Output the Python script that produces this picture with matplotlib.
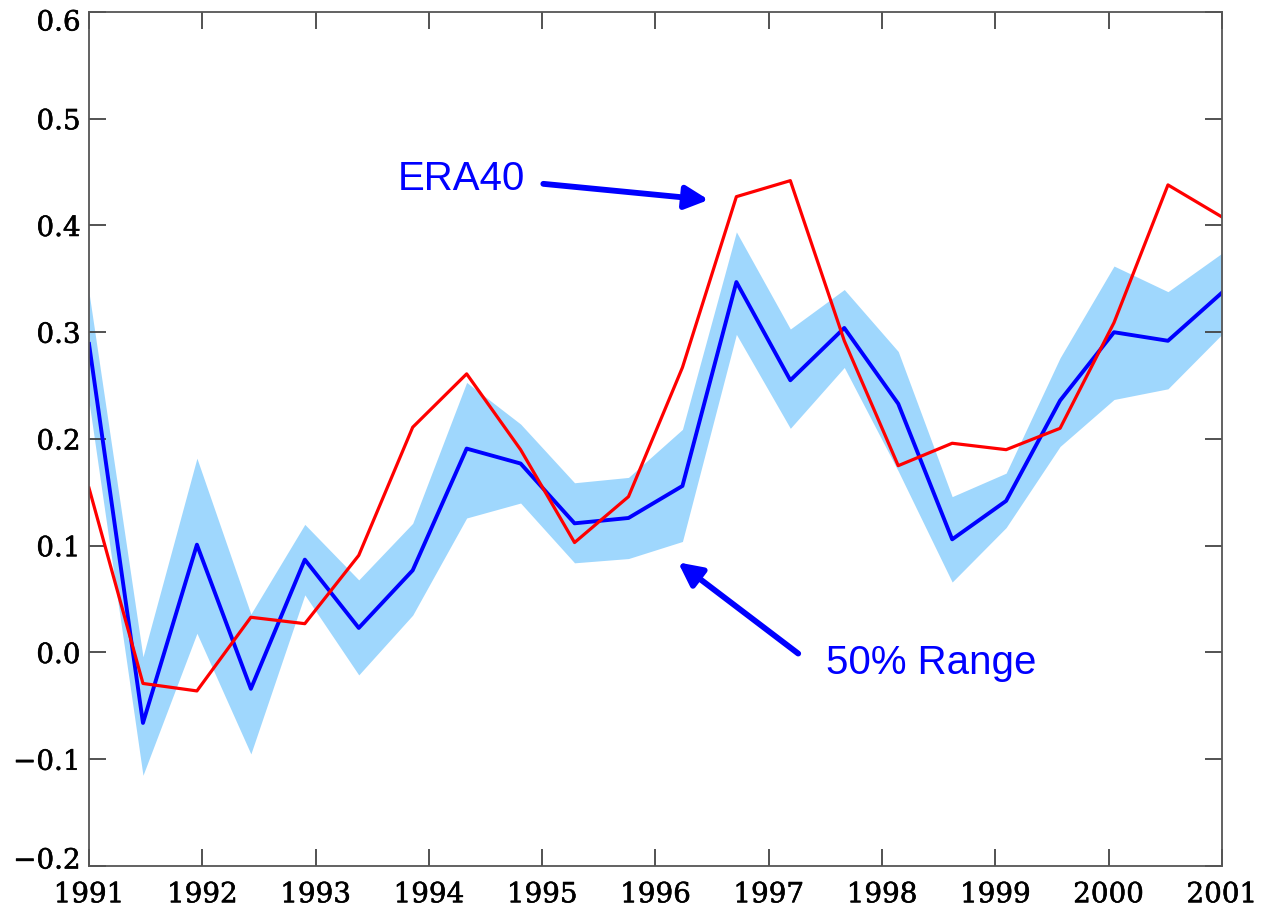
import numpy as np
import matplotlib
matplotlib.use('Agg')
import matplotlib.pyplot as plt
import matplotlib.patheffects as pe
import matplotlib.transforms as mtrans

# dados (22 pontos entre 1991 e 2001)
anos = np.linspace(1991, 2001, 22)
media = [0.289, -0.066, 0.101, -0.034, 0.087, 0.023, 0.077, 0.191, 0.177, 0.121, 0.126,
         0.156, 0.347, 0.255, 0.304, 0.233, 0.106, 0.142, 0.236, 0.300, 0.292, 0.337]
faixa_sup = [0.337, -0.004, 0.182, 0.036, 0.120, 0.068, 0.121, 0.253, 0.214, 0.159, 0.164,
             0.209, 0.394, 0.303, 0.340, 0.282, 0.146, 0.168, 0.276, 0.362, 0.338, 0.374]
faixa_inf = [0.235, -0.115, 0.018, -0.095, 0.054, -0.021, 0.035, 0.126, 0.140, 0.084, 0.088,
             0.104, 0.298, 0.210, 0.267, 0.170, 0.066, 0.117, 0.193, 0.237, 0.247, 0.298]
era40 = [0.154, -0.029, -0.036, 0.033, 0.027, 0.091, 0.211, 0.261, 0.190, 0.103, 0.146,
         0.267, 0.427, 0.442, 0.292, 0.175, 0.196, 0.190, 0.210, 0.309, 0.438, 0.408]

anos_ticks = list(range(1991, 2002))
y_ticks = [-0.2, -0.1, 0.0, 0.1, 0.2, 0.3, 0.4, 0.5, 0.6]

plt.rcParams['font.family'] = ['DejaVu Serif']

fig = plt.figure(figsize=(12.61, 9.07), dpi=100)
ax = fig.add_axes([0.0706, 0.0452, 0.8984, 0.9416])

ax.fill_between(anos, faixa_inf, faixa_sup, color='#9fd7fd', linewidth=0)
ax.plot(anos, media, color='#0000ff', linewidth=2.8)
ax.plot(anos, era40, color='#ff0000', linewidth=2.3)

ax.set_xlim(1991, 2001)
ax.set_ylim(-0.2, 0.6)
ax.set_xticks(anos_ticks)
ax.set_yticks(y_ticks)
ax.set_yticklabels([f'{v:.1f}'.replace('-', '\u2212') for v in y_ticks])

for s in ax.spines.values():
    s.set_color('#555555')
    s.set_linewidth(1.3)
ax.tick_params(direction='in', length=12, width=1.3, color='#444444',
               top=True, right=True, labelsize=20, pad=6)
ax.tick_params(axis='x', pad=11)

# rotulos um pouco mais grossos, como no original
for lab in ax.get_xticklabels() + ax.get_yticklabels():
    lab.set_path_effects([pe.withStroke(linewidth=0.4, foreground='black')])

# primeiro e ultimo rotulo do eixo y ficam deslocados para dentro
ylabs = ax.get_yticklabels()
ylabs[0].set_transform(ylabs[0].get_transform() +
                       mtrans.ScaledTranslation(0, 8 / 100, fig.dpi_scale_trans))
ylabs[-1].set_transform(ylabs[-1].get_transform() +
                        mtrans.ScaledTranslation(0, -8 / 100, fig.dpi_scale_trans))

# anotacoes
seta = dict(arrowstyle='-|>,head_length=0.7,head_width=0.35', color='#0000ff', lw=4.2,
            shrinkA=0, shrinkB=0, mutation_scale=20)
ax.annotate('', xy=(1996.47, 0.424), xytext=(1995.01, 0.439), arrowprops=seta)
ax.text(1994.29, 0.444, 'ERA40', fontsize=29, color='#0000ff',
        family='Liberation Sans', ha='center', va='center')
ax.annotate('', xy=(1996.20, 0.0844), xytext=(1997.26, -0.001), arrowprops=seta)
ax.text(1998.43, -0.0094, '50% Range', fontsize=29, color='#0000ff',
        family='Liberation Sans', ha='center', va='center')

plt.savefig('out.png', dpi=100)
plt.close('all')
